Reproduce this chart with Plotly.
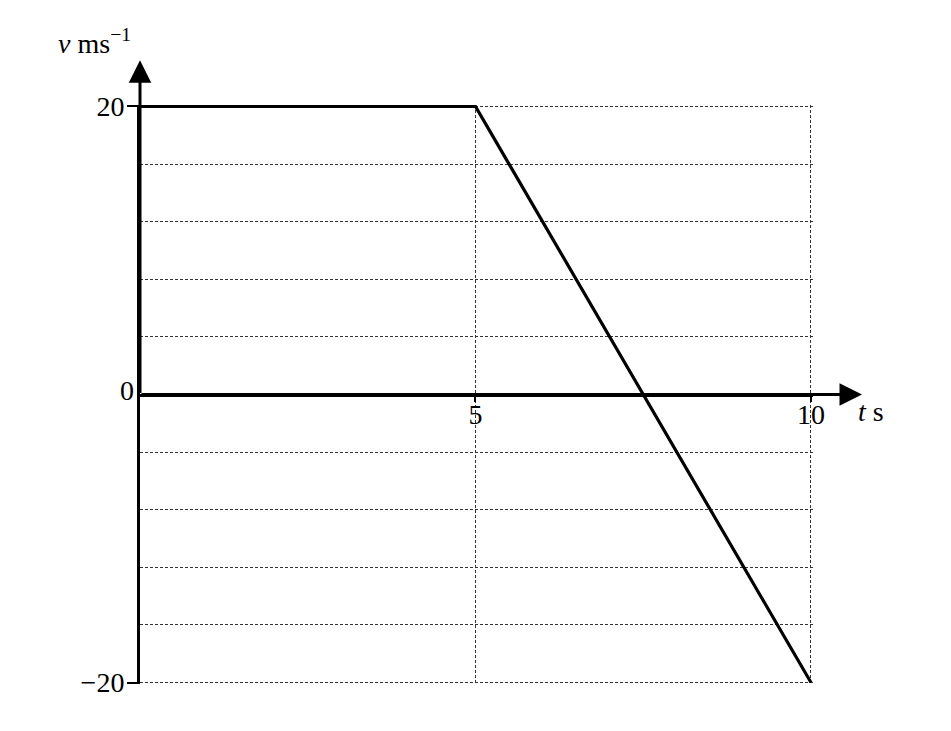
import plotly.graph_objects as go

# velocity-time data
t = [0, 5, 10]
v = [20, 20, -20]

# ticks
x_ticks = [5, 10]
y_ticks = [-20, 20]
y_tick_text = ["\u221220", "20"]

serif = "Liberation Serif"
grid_col = "#333"

fig = go.Figure()
fig.add_trace(go.Scatter(x=t, y=v, mode="lines",
                         line=dict(color="black", width=3.2),
                         hoverinfo="skip"))

# arrow heads on the axes
fig.add_annotation(x=0, y=23.2, ax=0, ay=0, xref="x", yref="y",
                   axref="x", ayref="y", text="", showarrow=True,
                   arrowhead=2, arrowsize=1.5, arrowwidth=3, arrowcolor="black")
fig.add_annotation(x=10.76, y=0, ax=0, ay=0, xref="x", yref="y",
                   axref="x", ayref="y", text="", showarrow=True,
                   arrowhead=2, arrowsize=1.5, arrowwidth=3, arrowcolor="black")

# axis labels and the zero label
fig.add_annotation(x=-0.125, y=1.109, xref="paper", yref="paper",
                   xanchor="left", yanchor="middle", showarrow=False,
                   text="<i>v</i> ms<sup>\u22121</sup>",
                   font=dict(family=serif, size=28, color="black"))
fig.add_annotation(x=1.064, y=0.471, xref="paper", yref="paper",
                   xanchor="left", yanchor="middle", showarrow=False,
                   text="<i>t</i> s",
                   font=dict(family=serif, size=28, color="black"))
fig.add_annotation(x=-0.006, y=0.507, xref="paper", yref="paper",
                   xanchor="right", yanchor="middle", showarrow=False,
                   text="0", font=dict(family=serif, size=28, color="black"))

# the page adds an 8px body margin, so the plot box is shifted back by 8px
fig.update_layout(
    width=951,
    height=731,
    margin=dict(l=132, r=146, t=97, b=55),
    paper_bgcolor="white",
    plot_bgcolor="white",
    showlegend=False,
    xaxis=dict(
        range=[0, 10.03],
        anchor="free",
        position=0.5,
        showline=True, linewidth=3, linecolor="black",
        tickvals=x_ticks,
        ticks="outside", ticklen=5, tickwidth=2, tickcolor="black",
        ticklabelstandoff=-11,
        tickfont=dict(family=serif, size=28, color="black"),
        showgrid=True, gridcolor=grid_col, gridwidth=1, griddash="3px,2px",
        zeroline=False, automargin=False,
    ),
    yaxis=dict(
        range=[-20.1, 20.1],
        showline=True, linewidth=3, linecolor="black",
        tickvals=y_ticks, ticktext=y_tick_text,
        ticks="outside", ticklen=10, tickwidth=2, tickcolor="black",
        ticklabelstandoff=-3,
        tickfont=dict(family=serif, size=28, color="black"),
        showgrid=True, gridcolor=grid_col, gridwidth=1, griddash="3px,2px",
        minor=dict(tick0=0, dtick=4, showgrid=True, gridcolor=grid_col,
                   gridwidth=1, griddash="3px,2px", ticks=""),
        zeroline=False, automargin=False,
    ),
)

fig.write_html("out.html")
